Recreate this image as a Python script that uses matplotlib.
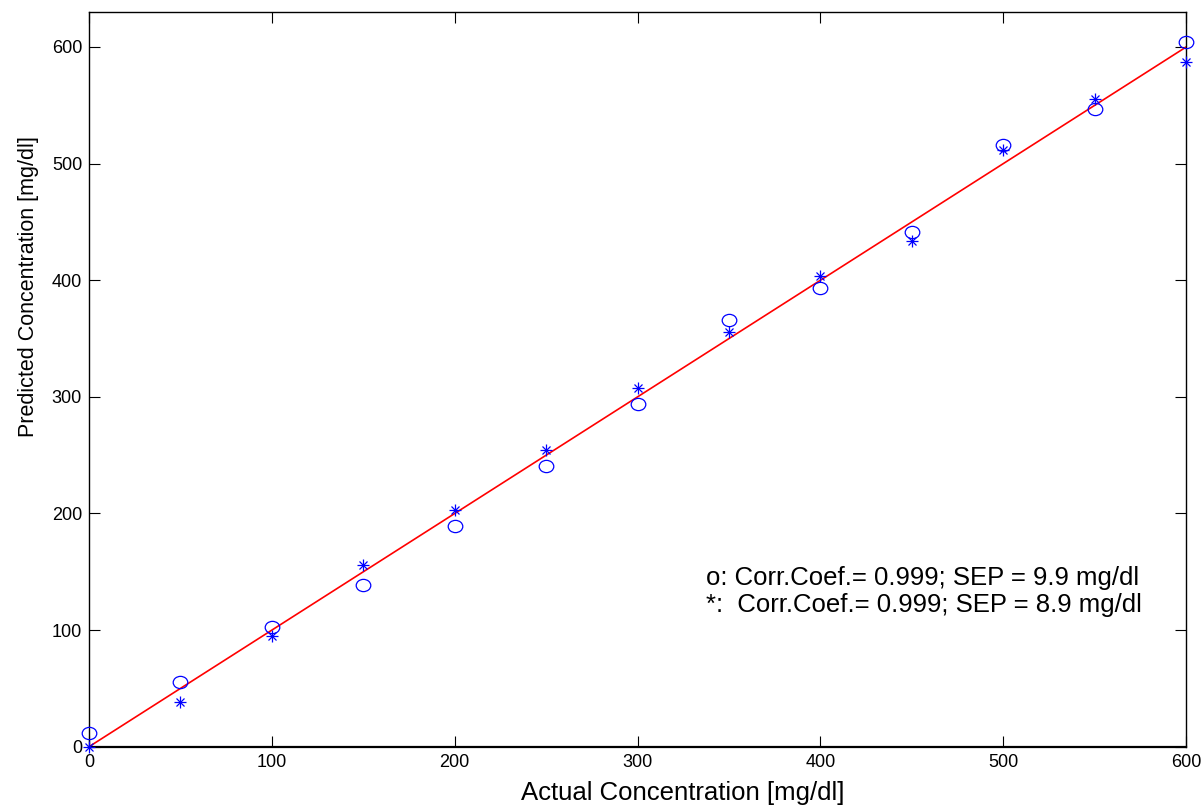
import matplotlib
matplotlib.use("Agg")
import matplotlib.pyplot as plt
from matplotlib.path import Path

plt.rcParams['font.family'] = ['Liberation Sans', 'DejaVu Sans']

actual = [0, 50, 100, 150, 200, 250, 300, 350, 400, 450, 500, 550, 600]
pred_o = [12, 55.5, 102.6, 139, 189.5, 240.5, 294, 366, 393, 441.7, 515.8, 547, 604.6]
pred_star = [0, 38, 95, 155.8, 202.7, 254.5, 308, 356, 403.7, 433.7, 511.7, 555.2, 587.5]
ideal = [0, 600]
xticks = [0, 100, 200, 300, 400, 500, 600]
yticks = [0, 100, 200, 300, 400, 500, 600]
note_lines = ["o: Corr.Coef.= 0.999; SEP = 9.9 mg/dl",
              "*:  Corr.Coef.= 0.999; SEP = 8.9 mg/dl"]

# slightly flattened open circle marker
circ = Path.unit_circle()
ellipse = Path(circ.vertices * [1.0, 0.84], circ.codes)

fig = plt.figure(figsize=(12.03, 8.05), dpi=100)
ax = fig.add_axes([0.074, 0.0724, 0.912, 0.9127])

ax.plot(ideal, ideal, color='red', lw=1.2, zorder=2)
ax.plot(actual, pred_o, linestyle='none', marker=ellipse, markersize=10.5,
        markerfacecolor='none', markeredgecolor='blue', markeredgewidth=0.9,
        zorder=3, clip_on=False)
ax.plot(actual, pred_star, linestyle='none', marker='+', markersize=9,
        color='blue', markeredgewidth=0.9, zorder=3, clip_on=False)
ax.plot(actual, pred_star, linestyle='none', marker='x', markersize=5.5,
        color='blue', markeredgewidth=0.9, zorder=3, clip_on=False)

ax.set_xlim(0, 600)
ax.set_ylim(0, 630)
ax.set_xticks(xticks)
ax.set_yticks(yticks)
ax.tick_params(direction='in', top=True, right=True, length=8, width=0.8,
               labelsize=13, pad=5, colors='black')
for s in ax.spines.values():
    s.set_linewidth(1.0)
    s.set_color('black')
ax.spines['bottom'].set_linewidth(1.6)

ax.set_xlabel("Actual Concentration [mg/dl]", fontsize=18.5)
ax.set_ylabel("Predicted Concentration [mg/dl]", fontsize=15.5)
ax.xaxis.set_label_coords(0.541, -0.046)
ax.yaxis.set_label_coords(-0.046, 0.626)

ax.text(337.5, 144.7, note_lines[0], fontsize=18.5, ha='left', va='center')
ax.text(337.5, 121.5, note_lines[1], fontsize=18.5, ha='left', va='center')

fig.savefig("out.png", dpi=100)
